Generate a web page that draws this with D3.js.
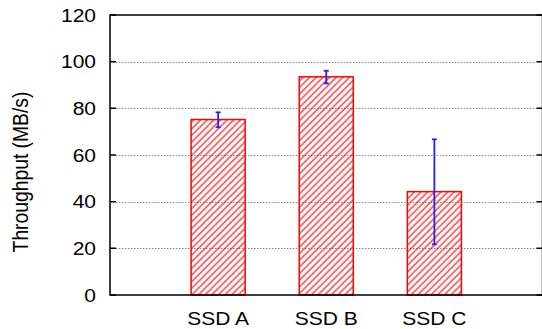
<!DOCTYPE html>
<html>
<head>
<meta charset="utf-8">
<script src="https://cdn.jsdelivr.net/npm/d3@7"></script>
<style>
  html, body { margin: 0; padding: 0; background: #fff; }
  text { font-family: "Liberation Sans", Arial, sans-serif; fill: #000; }
</style>
</head>
<body>
<div id="chart"></div>
<script>
const categories = ['SSD A', 'SSD B', 'SSD C'];
const throughput = [75.2, 93.5, 44.3];
const errLow = [71.9, 90.7, 21.7];
const errHigh = [78.3, 96.1, 66.7];
const yTicks = [0, 20, 40, 60, 80, 100, 120];

const width = 542;
const height = 329;
const plot = { left: 110, right: 542.5, top: 15, bottom: 295 };
const fontSize = 18.6;
const stretch = 1.13; // text in the reference is a bit wide

const svg = d3.select('#chart')
  .append('svg')
  .attr('width', width)
  .attr('height', height);

const x = d3.scaleLinear().domain([0, 4]).range([plot.left, plot.right]);
const y = d3.scaleLinear().domain([0, 120]).range([plot.bottom, plot.top]);
const barW = x(0.5) - x(0);

// hatch
svg.append('defs')
  .append('pattern')
  .attr('id', 'hatch')
  .attr('patternUnits', 'userSpaceOnUse')
  .attr('width', 4.7)
  .attr('height', 4.7)
  .attr('patternTransform', 'rotate(45)')
  .append('line')
  .attr('x1', 1).attr('y1', 0)
  .attr('x2', 1).attr('y2', 4.7)
  .style('stroke', '#ff0000')
  .style('stroke-width', 1.1);

// grid lines
svg.selectAll('.grid')
  .data(yTicks.filter(d => d > 0 && d < 120))
  .enter()
  .append('line')
  .attr('class', 'grid')
  .attr('x1', plot.left + 6)
  .attr('x2', plot.right - 6)
  .attr('y1', d => Math.round(y(d)) + 0.5)
  .attr('y2', d => Math.round(y(d)) + 0.5)
  .style('stroke', '#888')
  .style('stroke-width', 1)
  .style('stroke-dasharray', '1.5,1.5');

// bars
svg.selectAll('.bar')
  .data(throughput)
  .enter()
  .append('rect')
  .attr('class', 'bar')
  .attr('x', (d, i) => x(i + 1) - barW / 2)
  .attr('y', d => y(d))
  .attr('width', barW)
  .attr('height', d => y(0) - y(d))
  .style('fill', 'url(#hatch)')
  .style('stroke', '#ff0000')
  .style('stroke-width', 1.5);

// error bars
const err = svg.selectAll('.err')
  .data(throughput)
  .enter()
  .append('g')
  .attr('class', 'err')
  .style('stroke', '#2020ff')
  .style('stroke-width', 1.8);

err.append('line')
  .attr('x1', (d, i) => x(i + 1))
  .attr('x2', (d, i) => x(i + 1))
  .attr('y1', (d, i) => y(errLow[i]))
  .attr('y2', (d, i) => y(errHigh[i]));

err.append('line')
  .attr('x1', (d, i) => x(i + 1) - 2.5)
  .attr('x2', (d, i) => x(i + 1) + 2.5)
  .attr('y1', (d, i) => y(errLow[i]))
  .attr('y2', (d, i) => y(errLow[i]));

err.append('line')
  .attr('x1', (d, i) => x(i + 1) - 2.5)
  .attr('x2', (d, i) => x(i + 1) + 2.5)
  .attr('y1', (d, i) => y(errHigh[i]))
  .attr('y2', (d, i) => y(errHigh[i]));

// frame
svg.append('rect')
  .attr('x', plot.left)
  .attr('y', plot.top)
  .attr('width', plot.right - plot.left)
  .attr('height', plot.bottom - plot.top)
  .style('fill', 'none')
  .style('stroke', '#000')
  .style('stroke-width', 1.5);

// y ticks, both sides, pointing in
svg.selectAll('.ytick')
  .data(yTicks)
  .enter()
  .append('path')
  .attr('class', 'ytick')
  .attr('d', d => `M${plot.left},${y(d)}h6M${plot.right},${y(d)}h-6`)
  .style('stroke', '#000')
  .style('stroke-width', 1.5);

// y tick labels
svg.selectAll('.ylabel')
  .data(yTicks)
  .enter()
  .append('text')
  .attr('class', 'ylabel')
  .attr('transform', d => `translate(96,${y(d)}) scale(${stretch},1)`)
  .attr('dy', '0.36em')
  .style('text-anchor', 'end')
  .style('font-size', fontSize + 'px')
  .text(d => d);

// x labels
svg.selectAll('.xlabel')
  .data(categories)
  .enter()
  .append('text')
  .attr('class', 'xlabel')
  .attr('transform', (d, i) => `translate(${x(i + 1)},325) scale(${stretch},1)`)
  .style('text-anchor', 'middle')
  .style('font-size', fontSize + 'px')
  .text(d => d);

// axis title
svg.append('text')
  .attr('transform', `translate(28,172) scale(${stretch},1) rotate(-90)`)
  .style('text-anchor', 'middle')
  .style('font-size', '19.3px')
  .text('Throughput (MB/s)');
</script>
</body>
</html>
